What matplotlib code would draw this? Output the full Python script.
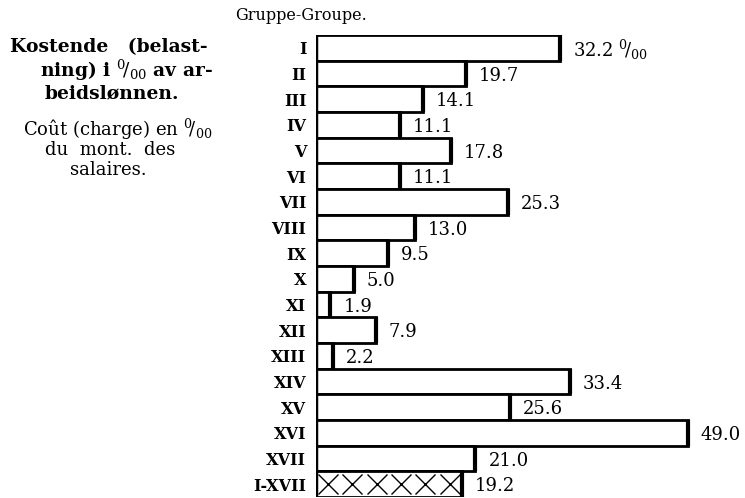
import numpy as np
import matplotlib
matplotlib.use('Agg')
import matplotlib.pyplot as plt

groups = ['I', 'II', 'III', 'IV', 'V', 'VI', 'VII', 'VIII', 'IX', 'X',
          'XI', 'XII', 'XIII', 'XIV', 'XV', 'XVI', 'XVII', 'I-XVII']
values = [32.2, 19.7, 14.1, 11.1, 17.8, 11.1, 25.3, 13.0, 9.5, 5.0,
          1.9, 7.9, 2.2, 33.4, 25.6, 49.0, 21.0, 19.2]
value_labels = ['32.2 $^0\\!/_{00}$'] + ['%.1f' % v for v in values[1:]]
n_crosses = 6   # crosses drawn in the total bar

plt.rcParams['font.family'] = ['DejaVu Serif']
plt.rcParams['mathtext.fontset'] = 'dejavuserif'

fig = plt.figure(figsize=(7.45, 4.98), dpi=100)
ax = fig.add_axes([316 / 745, 1 / 498, 429 / 745, 462 / 498])

y = np.arange(len(groups))
ax.barh(y, values, height=1.0, left=0, color='white',
        edgecolor='black', linewidth=2.0)

# thick right edge of each bar
for yi, v in zip(y, values):
    ax.plot([v, v], [yi - 0.5, yi + 0.5], color='black', lw=3.0,
            solid_capstyle='butt')

ax.axvline(0, color='black', lw=2.5)

# crosses in the I-XVII bar
step = values[-1] / n_crosses
cx = step / 2 + step * np.arange(n_crosses)
ax.plot(cx, np.full(n_crosses, y[-1]), ls='none', marker='x', ms=14,
        mew=1.0, color='black')

for yi, v, lab in zip(y, values, value_labels):
    ax.text(v + 1.7, yi + 0.08, lab, va='center', ha='left', fontsize=13)

ax.set_xlim(0, 56.5)
ax.set_ylim(len(groups) - 0.5, -0.5)
ax.set_yticks(y)
ax.set_yticklabels(groups, fontsize=11.5, fontweight='bold')
ax.tick_params(axis='y', length=0, pad=7)
ax.set_xticks([])
for s in ax.spines.values():
    s.set_visible(False)

fig.text(235 / 745, 1 - 16 / 498, 'Gruppe-Groupe.', fontsize=11.5,
         va='center', ha='left')

# left side title
fig.text(10 / 745, 1 - 47 / 498, 'Kostende   (belast-', fontsize=13.5,
         fontweight='bold', va='center', ha='left')
fig.text(213 / 745, 1 - 70 / 498, 'ning) i $^0\\!/_{00}$ av ar-', fontsize=13.5,
         fontweight='bold', va='center', ha='right')
fig.text(45 / 745, 1 - 93 / 498, 'beidslønnen.', fontsize=13.5,
         fontweight='bold', va='center', ha='left')

fig.text(118 / 745, 1 - 129 / 498, 'Coût (charge) en $^0\\!/_{00}$', fontsize=13,
         va='center', ha='center')
fig.text(110 / 745, 1 - 150 / 498, 'du  mont.  des', fontsize=13,
         va='center', ha='center')
fig.text(108 / 745, 1 - 170 / 498, 'salaires.', fontsize=13,
         va='center', ha='center')

fig.savefig('out.png', dpi=100)
